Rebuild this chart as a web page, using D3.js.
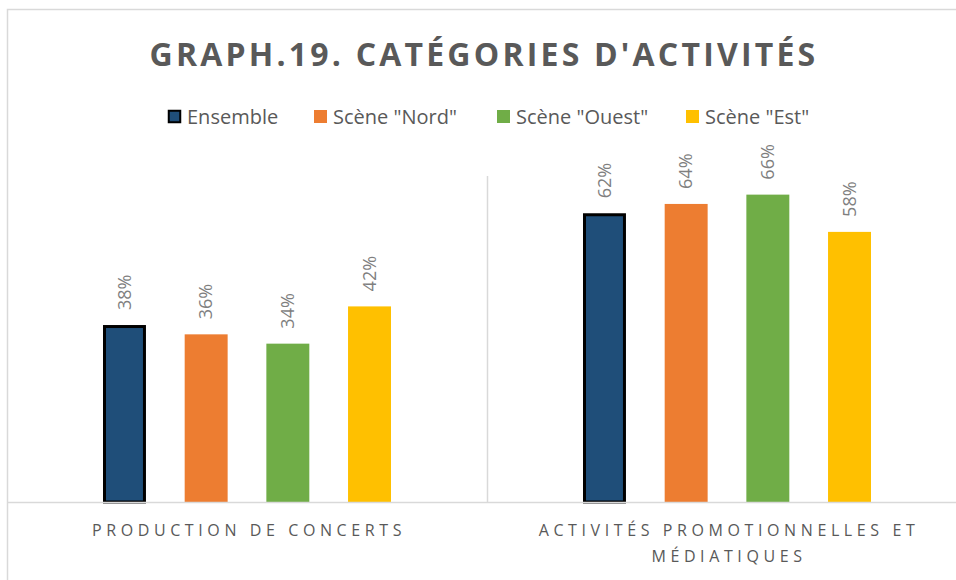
<!DOCTYPE html>
<html lang="fr">
<head>
<meta charset="UTF-8">
<script src="https://cdn.jsdelivr.net/npm/d3@7"></script>
<style>
  html, body { margin: 0; padding: 0; background: #fff; }
  svg { display: block; font-family: "Open Sans", "Noto Sans", sans-serif; }
</style>
</head>
<body>
<svg id="chart" width="956" height="580"></svg>
<script>
// data
var categories = ["PRODUCTION DE CONCERTS", "ACTIVITÉS PROMOTIONNELLES ET MÉDIATIQUES"];
var categoryLines = [["PRODUCTION DE CONCERTS"], ["ACTIVITÉS PROMOTIONNELLES ET", "MÉDIATIQUES"]];
var series = ["Ensemble", "Scène \"Nord\"", "Scène \"Ouest\"", "Scène \"Est\""];
var colors = ["#1F4E79", "#ED7D31", "#70AD47", "#FFC000"];
var values = [
  [0.38, 0.36, 0.34, 0.42],   // production de concerts
  [0.62, 0.64, 0.66, 0.58]    // activités promotionnelles
];

var svg = d3.select("#chart");
var W = 956, H = 580;
var base = 502, plotTop = 176;

// chart frame
svg.append("rect").attr("x", 7.5).attr("y", 9.5).attr("width", W + 10).attr("height", H + 10)
  .attr("fill", "#fff").attr("stroke", "#D9D9D9").attr("stroke-width", 1.5);

var x0 = d3.scaleBand().domain(categories).range([7, 967]).padding(0);
var x1 = d3.scaleBand().domain(series).range([96, 384]).paddingInner(0.474).paddingOuter(0);
var y = d3.scaleLinear().domain([0, 0.7]).range([base, plotTop]);
var color = d3.scaleOrdinal().domain(series).range(colors);

// title
svg.append("text").attr("x", 484).attr("y", 66).attr("text-anchor", "middle")
  .attr("fill", "#595959").attr("font-size", 32).attr("font-weight", "bold")
  .attr("letter-spacing", 3.2).text("GRAPH.19. CATÉGORIES D'ACTIVITÉS");

// legend
var legX = [168, 314, 497, 686];
var leg = svg.append("g").selectAll("g").data(series).join("g")
  .attr("transform", function(d, i) { return "translate(" + legX[i] + ",110)"; });
leg.append("rect")
  .attr("x", function(d, i) { return i === 0 ? 0.75 : 0; })
  .attr("y", function(d, i) { return i === 0 ? 0.75 : 0; })
  .attr("width", function(d, i) { return i === 0 ? 11.5 : 13; })
  .attr("height", function(d, i) { return i === 0 ? 11.5 : 13; })
  .attr("fill", function(d) { return color(d); })
  .attr("stroke", function(d, i) { return i === 0 ? "#000" : "none"; })
  .attr("stroke-width", 2);
leg.append("text").attr("x", 19).attr("y", 14).attr("fill", "#595959")
  .attr("font-size", 20).text(function(d) { return d; });

// category divider
svg.append("line").attr("x1", x0(categories[1]) + 0.5).attr("x2", x0(categories[1]) + 0.5)
  .attr("y1", plotTop).attr("y2", base).attr("stroke", "#D9D9D9").attr("stroke-width", 1.5);

var groups = svg.append("g").selectAll("g").data(categories).join("g")
  .attr("transform", function(d) { return "translate(" + x0(d) + ",0)"; });

groups.selectAll("rect").data(function(d, ci) {
    return series.map(function(s, si) { return { s: s, si: si, v: values[ci][si] }; });
  }).join("rect")
  .attr("x", function(d) { return x1(d.s) + (d.si === 0 ? 1.5 : 0); })
  .attr("y", function(d) { return y(d.v) + (d.si === 0 ? 1.5 : 0); })
  .attr("width", function(d) { return x1.bandwidth() - (d.si === 0 ? 3 : 0); })
  .attr("height", function(d) { return base - y(d.v) - (d.si === 0 ? 1.5 : 0); })
  .attr("fill", function(d) { return color(d.s); })
  .attr("stroke", function(d) { return d.si === 0 ? "#000" : "none"; })
  .attr("stroke-width", 3);

groups.selectAll("text.val").data(function(d, ci) {
    return series.map(function(s, si) { return { s: s, si: si, v: values[ci][si] }; });
  }).join("text").attr("class", "val")
  .attr("transform", function(d) {
    return "translate(" + (x1(d.s) + x1.bandwidth() / 2) + "," + (y(d.v) - 15) + ") rotate(-90)";
  })
  .attr("dy", "0.35em").attr("fill", "#7F7F7F").attr("font-size", 18)
  .text(function(d) { return d3.format(".0%")(d.v); });

// axis line
svg.append("line").attr("x1", 7).attr("x2", W).attr("y1", base + 0.5).attr("y2", base + 0.5)
  .attr("stroke", "#D9D9D9").attr("stroke-width", 1.5);

// category labels
groups.each(function(d, ci) {
  var t = d3.select(this).append("text").attr("text-anchor", "middle")
    .attr("fill", "#595959").attr("font-size", 16).attr("letter-spacing", 4.6);
  categoryLines[ci].forEach(function(line, li) {
    t.append("tspan").attr("x", x0.bandwidth() / 2 + 2).attr("y", 536 + li * 26).text(line);
  });
});
</script>
</body>
</html>
